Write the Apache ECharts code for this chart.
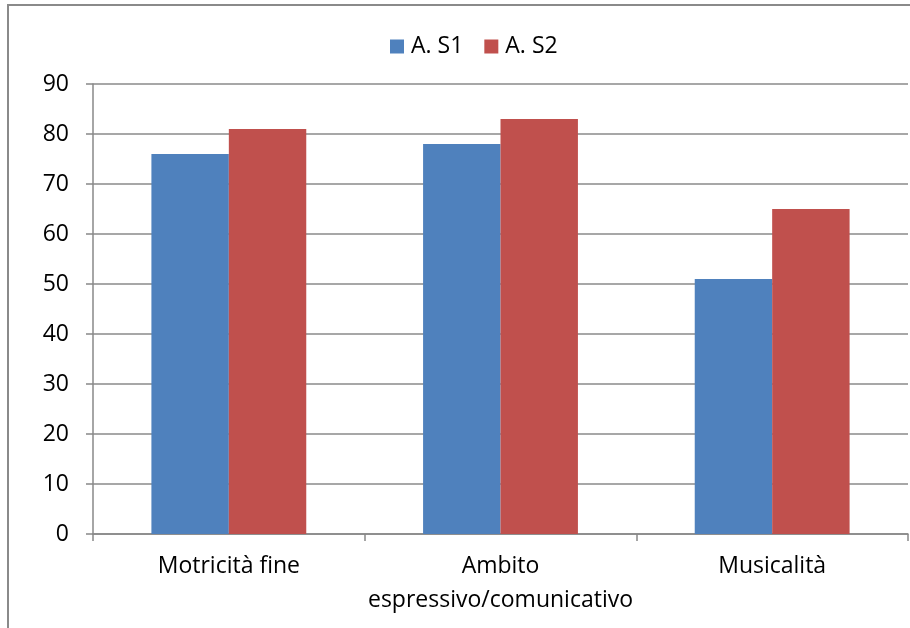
<!DOCTYPE html>
<html>
<head>
<meta charset="utf-8">
<style>
  html, body { margin: 0; padding: 0; background: #fff; }
  #chart { width: 910px; height: 628px; }
</style>
<script src="https://cdn.jsdelivr.net/npm/echarts@6/dist/echarts.min.js"></script>
</head>
<body>
<div id="chart"></div>
<script>
// Categories and scores per assessment
const categories = ['Motricità fine', 'Ambito\nespressivo/comunicativo', 'Musicalità'];
const seriesNames = ['A. S1', 'A. S2'];
const valuesS1 = [76, 78, 51];
const valuesS2 = [81, 83, 65];
const colors = ['#4f81bd', '#c0504d'];

const FONT = '"Open Sans", "Noto Sans", sans-serif';
const chart = echarts.init(document.getElementById('chart'), null, { renderer: 'canvas' });

chart.setOption({
  animation: false,
  backgroundColor: '#ffffff',
  textStyle: { fontFamily: FONT },
  graphic: [{
    type: 'rect',
    shape: { x: 8, y: 5, width: 1000, height: 1000 },
    style: { fill: 'none', stroke: '#8a8a8a', lineWidth: 2 },
    silent: true
  }],
  legend: {
    top: 30,
    left: 385,
    itemWidth: 14,
    itemHeight: 14,
    itemGap: 21,
    icon: 'rect',
    textStyle: { fontFamily: FONT, fontSize: 23, color: '#000', padding: [0, 0, 0, 2] },
    data: seriesNames
  },
  grid: { left: 93, right: 2, top: 84, bottom: 94, containLabel: false },
  xAxis: {
    type: 'category',
    data: categories,
    axisLine: { lineStyle: { color: '#888', width: 1.5 } },
    axisTick: { show: true, interval: 0, length: 7, lineStyle: { color: '#888', width: 1.5 } },
    axisLabel: { interval: 0, fontFamily: FONT, fontSize: 23, color: '#000', margin: 15, lineHeight: 34 }
  },
  yAxis: {
    type: 'value',
    min: 0,
    max: 90,
    interval: 10,
    axisLine: { show: true, lineStyle: { color: '#888', width: 1.5 } },
    axisTick: { show: true, length: 7, inside: false, lineStyle: { color: '#888', width: 1.5 } },
    axisLabel: { fontFamily: FONT, fontSize: 23, color: '#000', margin: 24 },
    splitLine: { show: true, lineStyle: { color: '#8a8a8a', width: 1.5 } }
  },
  series: [
    {
      name: seriesNames[0],
      type: 'bar',
      data: valuesS1,
      itemStyle: { color: colors[0] },
      barGap: '0%',
      barCategoryGap: '43%'
    },
    {
      name: seriesNames[1],
      type: 'bar',
      data: valuesS2,
      itemStyle: { color: colors[1] },
      barGap: '0%',
      barCategoryGap: '43%'
    }
  ]
});
</script>
</body>
</html>
